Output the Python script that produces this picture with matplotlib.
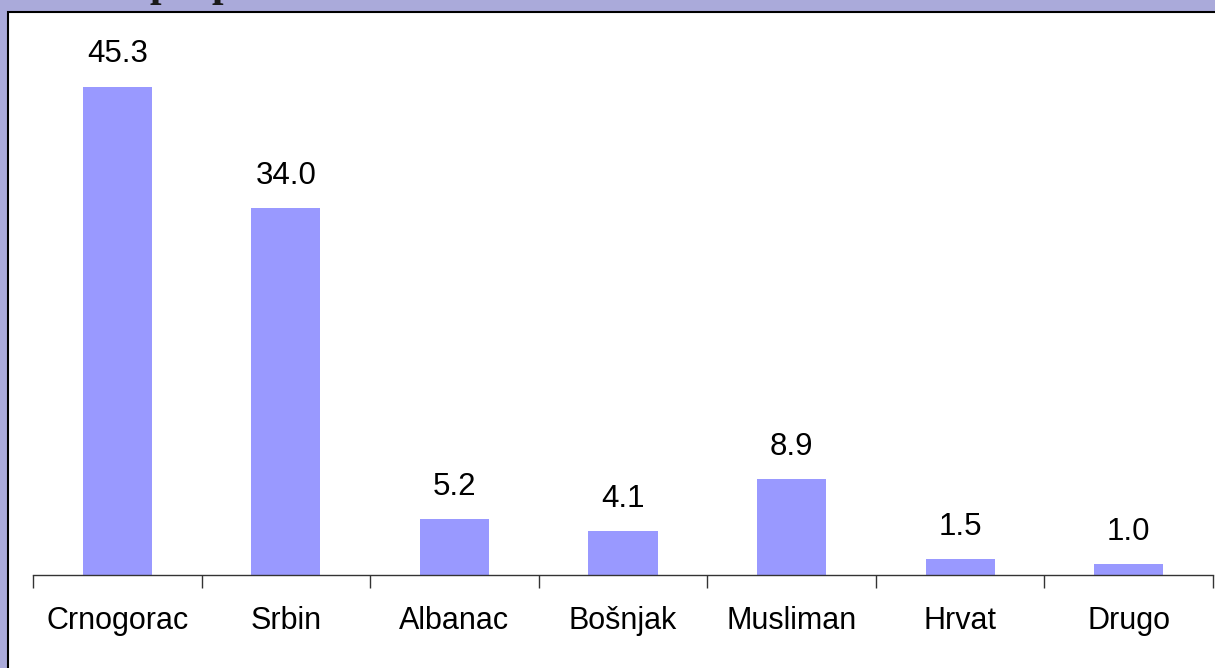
import matplotlib.pyplot as plt
from matplotlib.patches import Rectangle
import numpy as np

categories = ['Crnogorac', 'Srbin', 'Albanac', 'Bošnjak', 'Musliman', 'Hrvat', 'Drugo']
values = [45.3, 34.0, 5.2, 4.1, 8.9, 1.5, 1.0]

W, H = 1215, 668
fig = plt.figure(figsize=(W / 100, H / 100), dpi=100)
fig.patch.set_facecolor('#AAAADA')

# white panel with black border on left/top
panel = Rectangle((8 / W, -0.1), 1.1, (H - 12) / H + 0.1, transform=fig.transFigure,
                  facecolor='white', edgecolor='black', linewidth=1.5, zorder=-5)
fig.patches.append(panel)

# cut-off title descenders at the very top
for xp in [150, 211]:
    fig.text(xp / W, 1.0 + 4 / H, 'p', family='Liberation Serif', fontweight='bold',
             fontsize=30, va='baseline', ha='left', color='#1a1a1a')

ax = fig.add_axes([33 / W, (H - 575) / H, 1180 / W, 539 / H])
ax.set_facecolor('none')
ax.set_zorder(2)
x = np.arange(len(categories))
ax.bar(x, values, width=0.41, color='#9999FF')
for xi, v in zip(x, values):
    ax.text(xi, v + 1.6, f'{v:.1f}', ha='center', va='bottom', fontsize=22.5,
            family='Liberation Sans')

ax.set_xlim(-0.5, len(categories) - 0.5)
ax.set_ylim(0, 50)
for s in ['top', 'right', 'left']:
    ax.spines[s].set_visible(False)
ax.spines['bottom'].set_color('#333333')
ax.spines['bottom'].set_linewidth(1)
ax.set_yticks([])
ax.set_xticks(x)
ax.set_xticklabels(categories, fontsize=22, family='Liberation Sans')
ax.tick_params(axis='x', which='major', length=0, pad=22)
ax.set_xticks(np.arange(len(categories) + 1) - 0.5, minor=True)
ax.tick_params(axis='x', which='minor', length=9, width=1, color='#333333', direction='out')

fig.savefig('out.png', dpi=100, facecolor=fig.get_facecolor())
